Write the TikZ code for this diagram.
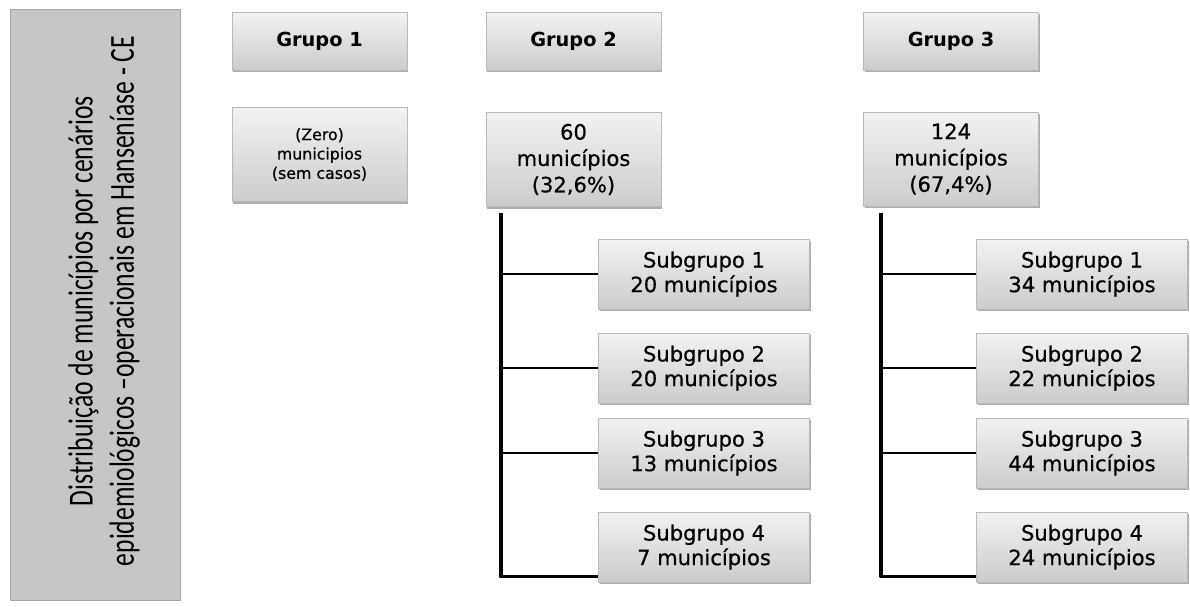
\documentclass[tikz,border=0pt]{standalone}
\usepackage{fontspec}
\setmainfont{DejaVu Sans}
\newfontfamily\titlefont[FakeStretch=0.73]{Carlito}
\newfontfamily\boxfont[FakeBold=0.6]{DejaVu Sans}
\usetikzlibrary{calc,shadows}

\begin{document}
\begin{tikzpicture}[x=0.02cm,y=-0.02cm,line join=round,
  box/.style={draw=gray!55,line width=0.5pt,top color=gray!10,bottom color=gray!40,
    drop shadow={shadow xshift=0.8pt,shadow yshift=-1.2pt,fill=gray!80,opacity=0.8},
    align=center,inner sep=2pt},
  head/.style={box,minimum width=3.5cm,minimum height=1.16cm,font=\bfseries\fontsize{11}{13}\selectfont},
  count/.style={box,minimum width=3.5cm,minimum height=1.88cm,font=\boxfont\fontsize{12}{15}\selectfont},
  sub/.style={box,minimum width=4.22cm,minimum height=1.4cm,font=\boxfont\fontsize{12}{14}\selectfont},
  trunk/.style={line width=2.2pt},
  branch/.style={line width=1.3pt}]
\useasboundingbox (0,0) rectangle (1190,606);
% titulo lateral
\node[draw=gray!70,fill=gray!45,minimum width=3.4cm,minimum height=11.82cm] (T) at (95,305) {};
\node[rotate=90,align=center,font=\titlefont\fontsize{20}{23.5}\selectfont] (Tx) at (104,301)
  {Distribuição de municípios por cenários\\epidemiológicos –operacionais em Hanseníase - CE};
% grupos
\node[head] (G1) at (319.5,41) {Grupo 1};
\node[head] (G2) at (573.5,41) {Grupo 2};
\node[head] (G3) at (951,41) {Grupo 3};
\node[count,font=\boxfont\fontsize{9}{11}\selectfont] (M1) at (319.5,154.5) {(Zero)\\municipios\\(sem casos)};
\node[count] (M2) at (573.5,159.5) {60\\municípios\\(32,6\%)};
\node[count] (M3) at (951,159) {124\\municípios\\(67,4\%)};
% subgrupos
\foreach \n/\y/\a/\b in {1/274/20/34,2/368/20/22,3/453/13/44,4/547/7/24}{
  \node[sub] (S2\n) at (704,\y) {Subgrupo \n\\\a{} municípios};
  \node[sub] (S3\n) at (1082,\y) {Subgrupo \n\\\b{} municípios};
}
\coordinate (T2) at ([xshift=0.3cm,yshift=-0.12cm]M2.south west);
\coordinate (T3) at ([xshift=0.36cm,yshift=-0.14cm]M3.south west);
\foreach \g in {2,3}{
  \draw[trunk] (T\g) |- ([yshift=0.12cm]S\g4.south west);
  \foreach \n in {1,2,3}{\draw[branch] (T\g |- S\g\n.west) -- (S\g\n.west);}
}
\end{tikzpicture}
\end{document}
